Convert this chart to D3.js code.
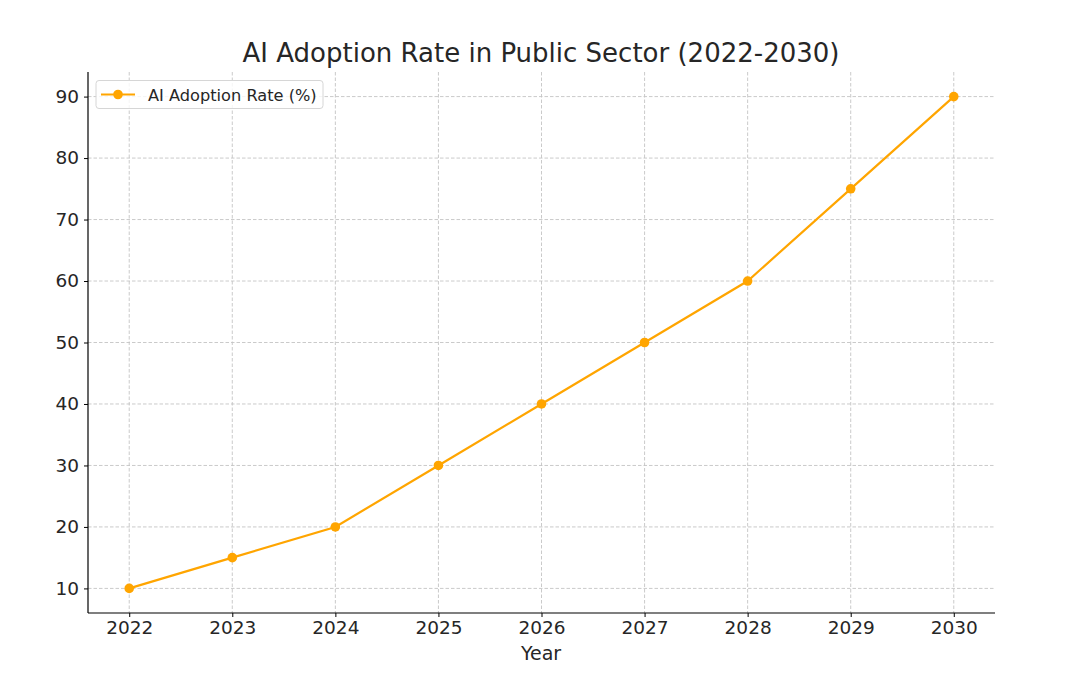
<!DOCTYPE html>
<html><head><meta charset="utf-8">
<script src="https://cdn.jsdelivr.net/npm/d3@7"></script>
<style>body{margin:0;background:#fff}svg{display:block}text{font-family:"DejaVu Sans",sans-serif;fill:#262626}</style>
</head><body>
<script>
const years = [2022, 2023, 2024, 2025, 2026, 2027, 2028, 2029, 2030];
const adoption = [10, 15, 20, 30, 40, 50, 60, 75, 90];
const yTicks = [10, 20, 30, 40, 50, 60, 70, 80, 90];
const seriesName = "AI Adoption Rate (%)";
const titleText = "AI Adoption Rate in Public Sector (2022-2030)";
const xLabel = "Year";

const W = 1083, H = 682;
const m = {l: 88, r: 995, t: 72, b: 613};
const svg = d3.select("body").append("svg").attr("width", W).attr("height", H);
const x = d3.scaleLinear().domain([2021.6, 2030.4]).range([m.l, m.r]);
const y = d3.scaleLinear().domain([6, 94]).range([m.b, m.t]);
const color = "#FFA500";

// grid
const g = svg.append("g");
g.selectAll(".gx").data(years).join("line")
  .attr("x1", d => x(d)).attr("x2", d => x(d)).attr("y1", m.t).attr("y2", m.b)
  .attr("stroke", "#c4c4c4").attr("stroke-width", 0.9).attr("stroke-dasharray", "3.5,2");
g.selectAll(".gy").data(yTicks).join("line")
  .attr("y1", d => y(d)).attr("y2", d => y(d)).attr("x1", m.l).attr("x2", m.r)
  .attr("stroke", "#c4c4c4").attr("stroke-width", 0.9).attr("stroke-dasharray", "3.5,2");

// axes
const xAxis = svg.append("g").attr("transform", `translate(0,${m.b})`)
  .call(d3.axisBottom(x).tickValues(years).tickFormat(d3.format("d")).tickSizeOuter(0).tickSize(4).tickPadding(4));
const yAxis = svg.append("g").attr("transform", `translate(${m.l},0)`)
  .call(d3.axisLeft(y).tickValues(yTicks).tickSizeOuter(0).tickSize(4).tickPadding(5));
[xAxis, yAxis].forEach(a => {
  a.select(".domain").attr("stroke", "#000").attr("stroke-width", 1.2);
  a.selectAll(".tick line").attr("stroke", "#000").attr("stroke-width", 1);
  a.selectAll(".tick text").style("font-family", '"DejaVu Sans",sans-serif').style("font-size", "18.5px").attr("fill", "#262626");
});
xAxis.select(".domain").attr("d", `M${m.l},0H${m.r}`);
yAxis.select(".domain").attr("d", `M0,${m.b}V${m.t}`);

// line
const pts = years.map((yr, i) => [yr, adoption[i]]);
svg.append("path").datum(pts)
  .attr("fill", "none").attr("stroke", color).attr("stroke-width", 2.2)
  .attr("d", d3.line().x(d => x(d[0])).y(d => y(d[1])));
svg.selectAll(".pt").data(pts).join("circle")
  .attr("cx", d => x(d[0])).attr("cy", d => y(d[1])).attr("r", 4.8).attr("fill", color);

// title & labels
svg.append("text").attr("x", 541).attr("y", 62).attr("text-anchor", "middle")
  .style("font-size", "26px").text(titleText);
svg.append("text").attr("x", 541).attr("y", 660).attr("text-anchor", "middle")
  .style("font-size", "19px").text(xLabel);

// legend
const lg = svg.append("g");
lg.append("rect").attr("x", 96).attr("y", 80.5).attr("width", 227).attr("height", 28).attr("rx", 3)
  .attr("fill", "#fff").attr("fill-opacity", 0.8).attr("stroke", "#d6d6d6").attr("stroke-width", 1);
lg.append("line").attr("x1", 101).attr("x2", 135).attr("y1", 94.5).attr("y2", 94.5).attr("stroke", color).attr("stroke-width", 2.2);
lg.append("circle").attr("cx", 118).attr("cy", 94.5).attr("r", 4.8).attr("fill", color);
lg.append("text").attr("x", 148).attr("y", 100.5).style("font-size", "16.2px").text(seriesName);
</script>
</body></html>
